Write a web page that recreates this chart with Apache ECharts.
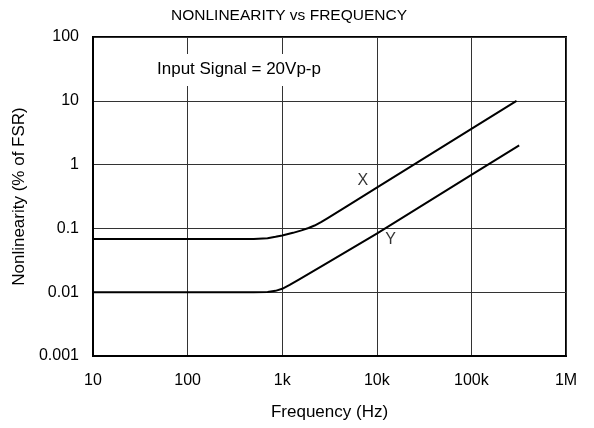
<!DOCTYPE html>
<html>
<head>
<meta charset="utf-8">
<script src="https://cdn.jsdelivr.net/npm/echarts@6/dist/echarts.min.js"></script>
<style>
html,body{margin:0;padding:0;background:#fff;}
#c{width:594px;height:428px;}
</style>
</head>
<body>
<div id="c"></div>
<script>
var xTickValues = [10, 100, 1000, 10000, 100000, 1000000];
var xTickLabels = ['10', '100', '1k', '10k', '100k', '1M'];
var yTickValues = [0.001, 0.01, 0.1, 1, 10, 100];
var yTickLabels = ['0.001', '0.01', '0.1', '1', '10', '100'];

var curveXFreq = [10, 500, 700, 850, 1000, 1300, 1600, 1900, 2200, 2600, 3000, 5000, 10000, 100000, 300000];
var curveXVal  = [0.068, 0.068, 0.0703, 0.0738, 0.0775, 0.0852, 0.093, 0.1014, 0.111, 0.127, 0.144, 0.23, 0.435, 3.62, 10];
var curveYFreq = [10, 500, 700, 850, 1000, 1200, 1500, 3000, 10000, 100000, 320000];
var curveYVal  = [0.01, 0.01, 0.0101, 0.0105, 0.0113, 0.013, 0.0157, 0.0288, 0.083, 0.69, 2.0];

var labelNames = ['X', 'Y'];
var labelFreq = [7100, 14000];
var labelVal = [0.57, 0.066];

var FONT = "'Liberation Sans', Arial, Helvetica, sans-serif";

function pairs(xs, ys) { return xs.map(function (x, i) { return [x, ys[i]]; }); }
function fmt(vals, labs) {
  return function (v) {
    for (var i = 0; i < vals.length; i++) {
      if (Math.abs(Math.log10(v) - Math.log10(vals[i])) < 1e-6) return labs[i];
    }
    return '';
  };
}

var chart = echarts.init(document.getElementById('c'), null, {renderer: 'canvas'});
chart.setOption({
  animation: false,
  backgroundColor: '#fff',
  textStyle: {fontFamily: FONT},
  title: {
    text: 'NONLINEARITY vs FREQUENCY',
    left: 284, top: 3, textAlign: 'center',
    textStyle: {fontFamily: FONT, fontSize: 15.5, fontWeight: 'normal', color: '#000'}
  },
  grid: {left: 93, right: 28, top: 37, bottom: 72, show: true, borderColor: '#000', borderWidth: 2, containLabel: false},
  xAxis: {
    type: 'log', logBase: 10, min: 10, max: 1000000,
    name: 'Frequency (Hz)', nameLocation: 'middle', nameGap: 48,
    nameTextStyle: {fontFamily: FONT, fontSize: 17, color: '#000'},
    axisLine: {show: true, lineStyle: {color: '#000', width: 2}},
    axisTick: {show: false},
    minorTick: {show: false},
    axisLabel: {fontFamily: FONT, fontSize: 16, color: '#000', margin: 17, formatter: fmt(xTickValues, xTickLabels)},
    splitLine: {show: true, lineStyle: {color: '#333', width: 1}}
  },
  yAxis: {
    type: 'log', logBase: 10, min: 0.001, max: 100,
    name: 'Nonlinearity (% of FSR)', nameLocation: 'middle', nameGap: 64,
    nameTextStyle: {fontFamily: FONT, fontSize: 17, color: '#000'},
    axisLine: {show: true, lineStyle: {color: '#000', width: 2}},
    axisTick: {show: false},
    axisLabel: {fontFamily: FONT, fontSize: 16, color: '#000', margin: 14, formatter: fmt(yTickValues, yTickLabels)},
    splitLine: {show: true, lineStyle: {color: '#333', width: 1}}
  },
  graphic: [{
    type: 'text', left: 154, top: 54, z: 100,
    style: {text: 'Input Signal = 20Vp-p', fontFamily: FONT, fontSize: 17, fill: '#000',
            backgroundColor: '#fff', padding: [7, 3, 8, 3]}
  }],
  series: [
    {type: 'line', name: 'X', data: pairs(curveXFreq, curveXVal), smooth: false, showSymbol: false, symbol: 'none',
     lineStyle: {color: '#000', width: 2, join: 'round'}},
    {type: 'line', name: 'Y', data: pairs(curveYFreq, curveYVal), smooth: false, showSymbol: false, symbol: 'none',
     lineStyle: {color: '#000', width: 2, join: 'round'}},
    {type: 'scatter', data: pairs(labelFreq, labelVal).map(function (p, i) { return {value: p, name: labelNames[i]}; }),
     symbolSize: 0, silent: true,
     label: {show: true, position: 'inside', formatter: '{b}', fontFamily: FONT, fontSize: 16, color: '#000'}}
  ]
});
</script>
</body>
</html>
